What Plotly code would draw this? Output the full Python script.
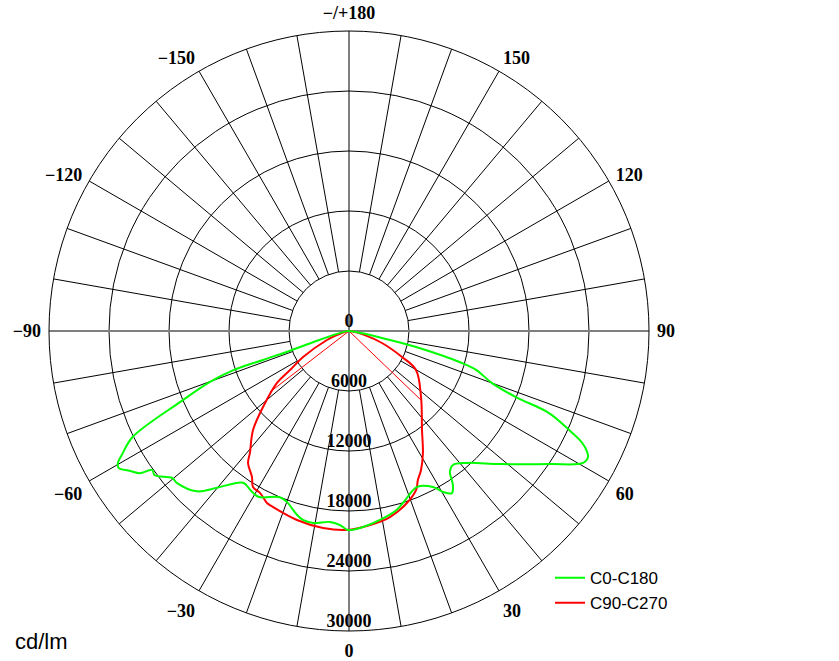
import plotly.graph_objects as go

# ---- data (cd/klm, angle in degrees, 0 = nadir) ----
c0_theta = [-90, -85, -80, -76, -73, -71.6, -71.4, -71.3, -69.9, -67.2, -63.9, -61.5, -60.3, -59.3,
            -57.5, -55.8, -54.8, -53.4, -50.3, -48.5, -43.5, -40.1, -34.9, -31.9, -28.7, -22.6,
            -19.9, -15.8, -13.7, -10.6, -5.7, -2.7, -0.3, 4.1, 9.3, 15, 18, 23.6, 28.3, 30.3,
            32.4, 34.0, 35.6, 37.8, 41.8, 48.6, 56.5, 60.6, 62.2, 63.8, 64.7, 65.8, 67.7, 68.4,
            70, 73, 74.2, 76.6, 78, 80, 84, 90]
c0_r = [0, 150, 500, 1500, 3500, 6000, 9000, 12200, 14800, 18300, 24100, 25800, 26600, 26800,
        26000, 25300, 24100, 24200, 23000, 22950, 22100, 20500, 18500, 18700, 18900, 18000,
        18200, 19100, 19450, 19530, 19190, 19420, 19900, 19650, 19150, 18500, 17900, 17020, 17720, 18640,
        19200, 18580, 17340, 16960, 17700, 20120, 24100, 26870, 27020, 26300, 25540, 24120, 21620, 17960,
        15220, 13290, 11740, 6890, 3370, 1500, 400, 0]

c90_theta = [-90, -80, -72, -67.8, -60.5, -56.5, -54.2, -48.5, -44.1, -39.1, -37.4, -33.6, -31.6,
             -28.8, -25.5, -23.4, -15.4, -7.5, -0.6, 6.2, 12.4, 18.6, 22.9, 24.8, 27.4, 31.2,
             36.4, 47.5, 59.8, 63.9, 70, 76, 82, 90]
c90_r = [0, 300, 1200, 2380, 5280, 7070, 8880, 11480, 13790, 15710, 16620, 17530, 18320,
         18480, 19050, 19170, 19600, 19870, 19900, 19510, 19050, 18150, 17250, 16420, 15650, 14270,
         12300, 9770, 7750, 5900, 3510, 1500, 400, 0]

# thin red rays from the centre
c90_ray_theta = [-52.3, 0, 46.2]
c90_ray_r = [9980, 0, 9970]

ring_values = [0, 6000, 12000, 18000, 24000, 30000]
ring_labels = ["0", "6000", "12000", "18000", "24000", "30000"]

angle_tickvals = [0, 30, 60, 90, 120, 150, 180, 210, 240, 270, 300, 330]
angle_ticktext = ["0", "30", "60", "90", "120", "150", "\u2212/+180",
                  "\u2212150", "\u2212120", "\u221290", "\u221260", "\u221230"]

series_names = ["C0-C180", "C90-C270"]

R_MAX = 30000
R_IN = 6000

fig = go.Figure()

# spokes every 10 deg, from the inner ring to the outer ring
sp_t, sp_r = [], []
for a in range(0, 360, 10):
    if a % 90 == 0:
        continue
    sp_t += [a, a, None]
    sp_r += [R_IN, R_MAX, None]
fig.add_trace(go.Scatterpolar(theta=sp_t, r=sp_r, mode="lines",
                              line=dict(color="black", width=1),
                              hoverinfo="skip", showlegend=False))
# vertical full diameter
fig.add_trace(go.Scatterpolar(theta=[0, 0, None, 180, 180], r=[R_MAX, 0, None, 0, R_MAX], mode="lines",
                              line=dict(color="black", width=1),
                              hoverinfo="skip", showlegend=False))
# horizontal full diameter (grey)
fig.add_trace(go.Scatterpolar(theta=[90, 90, None, 270, 270], r=[R_MAX, 0, None, 0, R_MAX], mode="lines",
                              line=dict(color="#7f7f7f", width=2),
                              hoverinfo="skip", showlegend=False))

fig.add_trace(go.Scatterpolar(theta=c90_ray_theta, r=c90_ray_r, mode="lines",
                              line=dict(color="#ff0000", width=1),
                              hoverinfo="skip", showlegend=False))
fig.add_trace(go.Scatterpolar(theta=c90_theta, r=c90_r, mode="lines", name=series_names[1],
                              line=dict(color="#ff0000", width=2, shape="spline"), legendrank=2))
fig.add_trace(go.Scatterpolar(theta=c0_theta, r=c0_r, mode="lines", name=series_names[0],
                              line=dict(color="#00ff00", width=2, shape="spline"), legendrank=1))

# ring labels along the 0 direction
fig.add_trace(go.Scatterpolar(theta=[0] * len(ring_values), r=ring_values, mode="text",
                              text=ring_labels, textposition="top center",
                              textfont=dict(family="Liberation Serif", size=18, color="black", weight="bold"),
                              hoverinfo="skip", showlegend=False, cliponaxis=False))

fig.update_layout(
    width=839, height=661, autosize=False,
    margin=dict(l=49, r=190, t=31, b=30),
    paper_bgcolor="white", plot_bgcolor="white",
    polar=dict(
        domain=dict(x=[0, 1], y=[0, 1]),
        bgcolor="white",
        radialaxis=dict(range=[0, R_MAX], tickvals=ring_values[1:], showticklabels=False,
                        showline=False, ticks="", gridcolor="black", gridwidth=1),
        angularaxis=dict(rotation=270, direction="counterclockwise",
                         tickmode="array", tickvals=angle_tickvals, ticktext=angle_ticktext,
                         showgrid=False, showline=True, linecolor="black", linewidth=1,
                         ticks="outside", ticklen=4, tickcolor="rgba(0,0,0,0)",
                         tickfont=dict(family="Liberation Serif", size=18, color="black", weight="bold")),
    ),
    showlegend=True,
    legend=dict(x=0.835, y=0.118, xanchor="left", yanchor="top",
                font=dict(family="Liberation Sans", size=17, color="black"),
                bgcolor="rgba(0,0,0,0)", itemwidth=30, tracegroupgap=0),
    annotations=[dict(text="cd/lm", x=-0.06, y=-0.0167, xref="paper", yref="paper",
                      xanchor="left", yanchor="middle", showarrow=False,
                      font=dict(family="Liberation Sans", size=22, color="black"))],
)

fig.write_html("out.html",
               config={"displayModeBar": False},
               post_script="document.body.style.margin='0';document.body.style.overflow='hidden';")
